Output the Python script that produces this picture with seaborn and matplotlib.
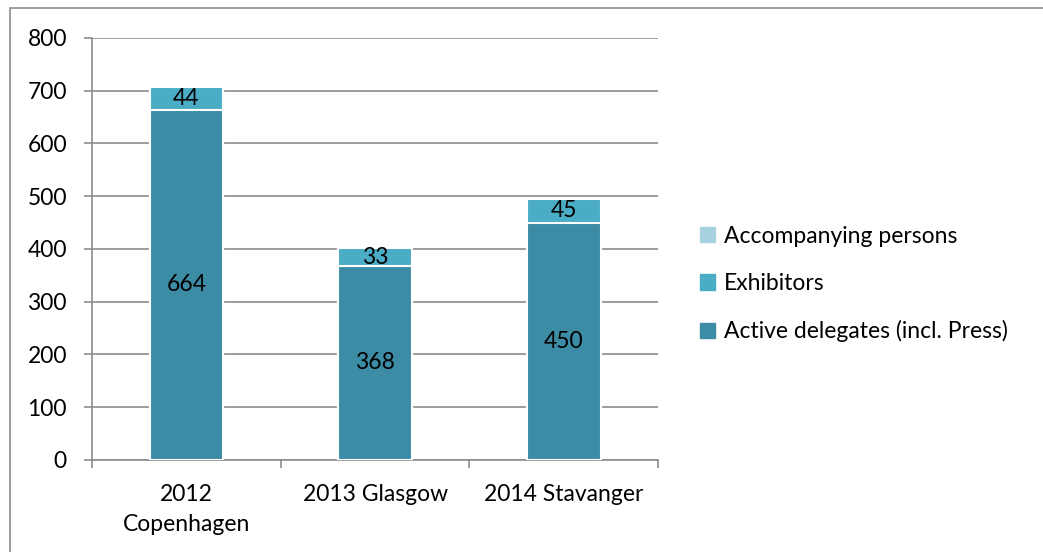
import matplotlib
matplotlib.use('Agg')
import matplotlib.pyplot as plt
import seaborn as sns
import pandas as pd
from matplotlib.patches import Rectangle, Patch

# Data
events = ['2012\nCopenhagen', '2013 Glasgow', '2014 Stavanger']
active = [664, 368, 450]
exhibitors = [44, 33, 45]
accompanying = [0, 0, 0]

c_active = '#3C8CA5'
c_exhib = '#4BACC6'
c_accomp = '#A6D2E0'

sns.set_style('white')
plt.rcParams['font.family'] = ['Lato', 'DejaVu Sans']
plt.rcParams['text.color'] = 'black'
plt.rcParams['xtick.labelcolor'] = 'black'
plt.rcParams['ytick.labelcolor'] = 'black'
FS = 16.5

df = pd.DataFrame({'event': events, 'active': active,
                   'exhibitors': exhibitors, 'accompanying': accompanying})
df['lvl2'] = df['active'] + df['exhibitors']
df['lvl3'] = df['lvl2'] + df['accompanying']

fig = plt.figure(figsize=(10.43, 5.52), dpi=100)
ax = fig.add_axes([0.0882, 0.1667, 0.5428, 0.7645])

# stacked bars: draw cumulative totals, largest first
sns.barplot(data=df, x='event', y='lvl3', color=c_accomp, width=0.39,
            edgecolor='white', linewidth=1.5, saturation=1, ax=ax, zorder=3)
sns.barplot(data=df, x='event', y='lvl2', color=c_exhib, width=0.39,
            edgecolor='white', linewidth=1.5, saturation=1, ax=ax, zorder=3)
sns.barplot(data=df, x='event', y='active', color=c_active, width=0.39,
            edgecolor='white', linewidth=1.5, saturation=1, ax=ax, zorder=3)

# value labels centred in each segment
for i, row in df.iterrows():
    ax.text(i, row['active'] / 2, str(row['active']), ha='center', va='center',
            fontsize=FS, zorder=5)
    ax.text(i, row['active'] + row['exhibitors'] / 2, str(row['exhibitors']),
            ha='center', va='center', fontsize=FS, zorder=5)

ax.set_ylim(0, 800)
ax.set_xlim(-0.5, 2.5)
ax.set_yticks(range(0, 801, 100))
ax.yaxis.grid(True, color='#8C8C8C', linewidth=1.2, zorder=0)
ax.set_axisbelow(True)
ax.set_xlabel('')
ax.set_ylabel('')

for s in ['top', 'right']:
    ax.spines[s].set_visible(False)
for s in ['left', 'bottom']:
    ax.spines[s].set_color('#8C8C8C')
    ax.spines[s].set_linewidth(1.2)

ax.tick_params(axis='y', which='major', length=6, width=1.2, color='#8C8C8C',
               direction='out', pad=12, labelsize=FS, left=True)
ax.tick_params(axis='x', which='major', length=0, pad=17, labelsize=FS)
for lbl in ax.get_xticklabels():
    lbl.set_linespacing(1.55)
ax.set_xticks([-0.5, 0.5, 1.5, 2.5], minor=True)
ax.tick_params(axis='x', which='minor', length=6, width=1.2, color='#8C8C8C',
               direction='out', bottom=True)

handles = [Patch(color=c_accomp, label='Accompanying persons'),
           Patch(color=c_exhib, label='Exhibitors'),
           Patch(color=c_active, label='Active delegates (incl. Press)')]
fig.legend(handles=handles, loc='center left', bbox_to_anchor=(0.651, 0.4855),
           frameon=False, fontsize=FS, handlelength=0.65, handleheight=0.65,
           handletextpad=0.4, labelspacing=1.15)

# outer chart border
fig.patches.append(Rectangle((0.0096, -0.01), 1.0, 0.9955, transform=fig.transFigure,
                             fill=False, edgecolor='#8C8C8C', linewidth=1.2))

fig.savefig('out.png', dpi=100)
